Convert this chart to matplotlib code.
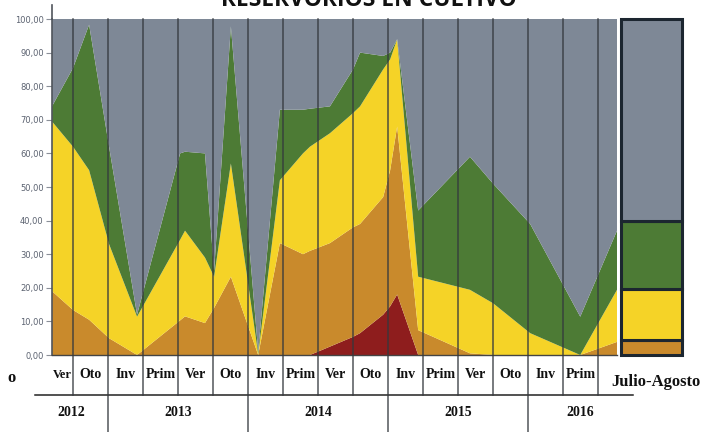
import matplotlib
matplotlib.use('Agg')
import matplotlib.pyplot as plt
import matplotlib.transforms as mtransforms
from matplotlib.font_manager import FontProperties

# ---------------- data ----------------
x_pos = [-0.10, 0.50, 0.96, 1.53, 2.33, 3.56, 3.70, 4.27, 4.53, 5.01, 5.79, 6.41, 7.07,
         7.27, 7.84, 8.50, 8.70, 9.36, 9.56, 9.76, 10.36, 11.84, 12.50, 13.56, 14.99, 16.04]
red = [0, 0, 0, 0, 0, 0, 0, 0, 0, 0, 0, 0, 0,
       0, 2.5, 5.4, 6.5, 12, 14.5, 18, 0, 0, 0, 0, 0, 0]
brown = [19, 13.4, 10.5, 5, 0, 10.3, 11.5, 9.5, 14, 23.3, 0, 33.3, 30,
         31, 30.8, 32.6, 32.5, 35, 40.5, 50, 7.4, 0.5, 0, 0, 0, 3.9]
yellow = [50.5, 48.6, 44.5, 28, 11.4, 24, 25.5, 19.5, 9.3, 33.7, 0.3, 18.7, 30,
          31, 32.7, 34, 35, 38, 33, 26, 15.9, 18.9, 15.4, 6.5, 0, 15.5]
green = [4.5, 23.4, 43.3, 29, 0.6, 25.7, 23.5, 31, 1.7, 40.8, 0.7, 21, 13,
         11.3, 8, 13, 16, 4, 2, 0, 19.7, 39.6, 35.6, 32.5, 11.4, 17.6]
grey = [26, 14.6, 1.7, 38, 88, 40, 39.5, 40, 75, 2.2, 99, 27, 27,
        26.7, 26, 15, 10, 11, 10, 6, 57, 41, 49, 61, 88.6, 63]

season_labels = ['Ver', 'Oto', 'Inv', 'Prim', 'Ver', 'Oto', 'Inv', 'Prim',
                 'Ver', 'Oto', 'Inv', 'Prim', 'Ver', 'Oto', 'Inv', 'Prim']
year_labels = ['2012', '2013', '2014', '2015', '2016']
year_spans = [(-0.59, 1.5), (1.5, 5.5), (5.5, 9.5), (9.5, 13.5), (13.5, 16.5)]
y_ticks = [0, 10, 20, 30, 40, 50, 60, 70, 80, 90, 100]

bar_label = 'Julio-Agosto'
bar_values = [4.5, 15.0, 20.3, 60.2]   # brown, yellow, green, grey

colors = ['#8e1d1d', '#c98a2c', '#f5d327', '#4d7b35', '#7e8896']

season_fp = FontProperties(family='Liberation Serif', weight='bold', size=10)
first_fp = FontProperties(family='Liberation Serif', weight='bold', size=9)

# ---------------- figure ----------------
fig = plt.figure(figsize=(7.21, 4.32), dpi=100)
W, H = 721, 432
px_left, px_right, px_top, px_bot = 52, 617, 19, 355
ax = fig.add_axes([px_left / W, (H - px_bot) / H, (px_right - px_left) / W, (px_bot - px_top) / H])

ax.stackplot(x_pos, red, brown, yellow, green, grey, colors=colors, linewidth=0,
             antialiased=True)
ax.set_xlim(x_pos[0], x_pos[-1])
ax.set_ylim(0, 100)

ax.set_xticks([])
ax.set_yticks(y_ticks)
ax.set_yticklabels([f'{v:.2f}'.replace('.', ',') for v in y_ticks],
                   fontsize=6, color='#5b6270', family='DejaVu Sans')
ax.tick_params(axis='y', length=4, width=0.8, color='#8a8f98', pad=2)
for s in ['top', 'right']:
    ax.spines[s].set_visible(False)
ax.spines['left'].set_color('#50555c')
ax.spines['left'].set_linewidth(1.2)
ax.spines['bottom'].set_color('#444444')
ax.spines['bottom'].set_linewidth(1.0)

ax_h = px_bot - px_top
trans = mtransforms.blended_transform_factory(ax.transData, ax.transAxes)
row1_bottom = -(395 - px_bot) / ax_h
row2_bottom = -(H - px_bot) / ax_h

# left axis extends above plot
ax.plot([0, 0], [1, 1 + 14 / ax_h], transform=ax.transAxes, color='#50555c',
        lw=1.2, clip_on=False)

# vertical season separators
for k in range(16):
    xv = 0.5 + k
    yb = row2_bottom if xv in (1.5, 5.5, 9.5, 13.5) else row1_bottom
    ax.plot([xv, xv], [1, yb], transform=trans, color='#34383d', lw=1.1,
            clip_on=False, zorder=5, alpha=0.85)

# horizontal line between rows
ax.plot([-0.59, 16.5], [row1_bottom, row1_bottom], transform=trans, color='#222222',
        lw=1.1, clip_on=False)

# season labels
row1_y = -(375 - px_bot) / ax_h
for i, lab in enumerate(season_labels):
    xc = 0.2 if i == 0 else i
    ax.text(xc, row1_y, lab, transform=trans, ha='center', va='center',
            fontproperties=first_fp if i == 0 else season_fp, color='#111111')

row2_y = -(413 - px_bot) / ax_h
for lab, (a, b) in zip(year_labels, year_spans):
    ax.text((a + b) / 2, row2_y, lab, transform=trans, ha='center', va='center',
            fontproperties=season_fp, color='#111111')

# ---------------- right bar ----------------
bx = fig.add_axes([621 / W, (H - px_bot) / H, 61 / W, (px_bot - px_top) / H])
bottom = 0
bar_colors = ['#c98a2c', '#f5d327', '#4d7b35', '#7e8896']
for v, c in zip(bar_values, bar_colors):
    bx.bar([0], [v], bottom=bottom, width=1.0, color=c, edgecolor='#1c2630',
           linewidth=2.2, clip_on=False)
    bottom += v
bx.set_xlim(-0.5, 0.5)
bx.set_ylim(0, 100)
bx.axis('off')

fig.text(656 / W, 1 - 382 / H, bar_label, ha='center', va='center',
         family='Liberation Serif', weight='bold', fontsize=12, color='#111111')

fig.text(12 / W, 1 - 378 / H, 'o', ha='center', va='center',
         family='Liberation Serif', weight='bold', fontsize=12, color='#111111')

# title (partly cut off at the top as in the source)
fig.text(369 / W, 1 - 6 / H, 'RESERVORIOS EN CULTIVO', ha='center', va='baseline',
         family='Open Sans', weight='bold', fontsize=16.5, color='#111111')

fig.savefig('out.png', dpi=100, facecolor='white')
